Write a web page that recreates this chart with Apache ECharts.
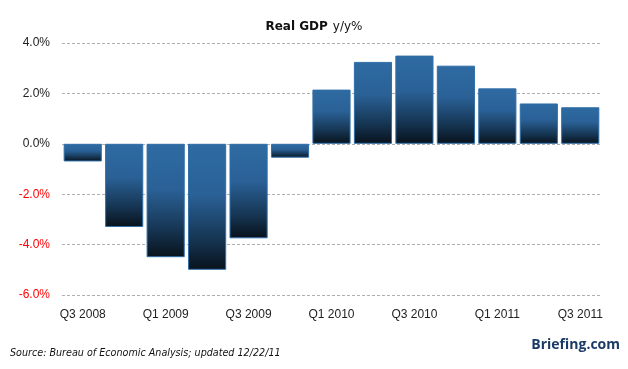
<!DOCTYPE html>
<html><head><meta charset="utf-8">
<script src="https://cdn.jsdelivr.net/npm/echarts@6/dist/echarts.min.js"></script>
<style>html,body{margin:0;padding:0;background:#fff}#c{width:628px;height:369px}</style>
</head><body><div id="c"></div>
<script>
const categories = ['Q3 2008','Q4 2008','Q1 2009','Q2 2009','Q3 2009','Q4 2009','Q1 2010','Q2 2010','Q3 2010','Q4 2010','Q1 2011','Q2 2011','Q3 2011'];
const gdpYoY = [-0.7, -3.3, -4.5, -5.0, -3.75, -0.55, 2.15, 3.25, 3.5, 3.1, 2.2, 1.6, 1.45];
const yTicks = [-6, -4, -2, 0, 2, 4];
const titleText = 'Real GDP';
const titleUnit = 'y/y%';
const sourceText = 'Source: Bureau of Economic Analysis; updated 12/22/11';
const brandText = 'Briefing.com';

const chart = echarts.init(document.getElementById('c'), null, {renderer: 'canvas'});
const barGrad = new echarts.graphic.LinearGradient(0, 0, 0, 1, [
  {offset: 0, color: '#2e6ba2'},
  {offset: 0.4, color: '#2a6197'},
  {offset: 0.75, color: '#163654'},
  {offset: 1, color: '#08121c'}
]);
chart.setOption({
  animation: false,
  backgroundColor: '#fff',
  title: {
    text: '{b|' + titleText + '} {n|' + titleUnit + '}',
    left: 'center', top: 13,
    textStyle: {
      rich: {
        b: {fontFamily: 'DejaVu Sans', fontWeight: 'bold', fontSize: 12, color: '#111'},
        n: {fontFamily: 'DejaVu Sans', fontWeight: 'normal', fontSize: 12, color: '#111'}
      }
    }
  },
  grid: {left: 62, right: 27, top: 43, bottom: 74, containLabel: false},
  xAxis: {
    type: 'category', data: categories,
    axisLine: {show: false}, axisTick: {show: false},
    axisLabel: {interval: 1, margin: 14, fontFamily: 'Liberation Sans', fontSize: 12, color: '#222'},
    splitLine: {show: false}
  },
  yAxis: {
    type: 'value', min: yTicks[0], max: yTicks[yTicks.length - 1], interval: 2,
    axisLine: {show: false}, axisTick: {show: false},
    axisLabel: {
      margin: 12, fontFamily: 'Liberation Sans', fontSize: 12,
      formatter: v => v.toFixed(1) + '%',
      color: v => (Number(v) < 0 ? '#ff0000' : '#222')
    },
    splitLine: {show: true, lineStyle: {type: [3, 2], color: '#b0b0b0', width: 1}}
  },
  series: [{
    type: 'bar', data: gdpYoY,
    barCategoryGap: '8%',
    itemStyle: {color: barGrad, borderColor: '#2f6ea8', borderWidth: 1}
  }],
  graphic: [
    {type: 'text', left: 10, top: 348, style: {text: sourceText, fontFamily: 'DejaVu Sans', fontStyle: 'italic', fontSize: 9.6, fill: '#111'}},
    {type: 'text', right: 8, top: 338, style: {text: brandText, fontFamily: 'Open Sans', fontWeight: 'bold', fontSize: 14, fill: '#1b3a66'}}
  ]
});
</script></body></html>
